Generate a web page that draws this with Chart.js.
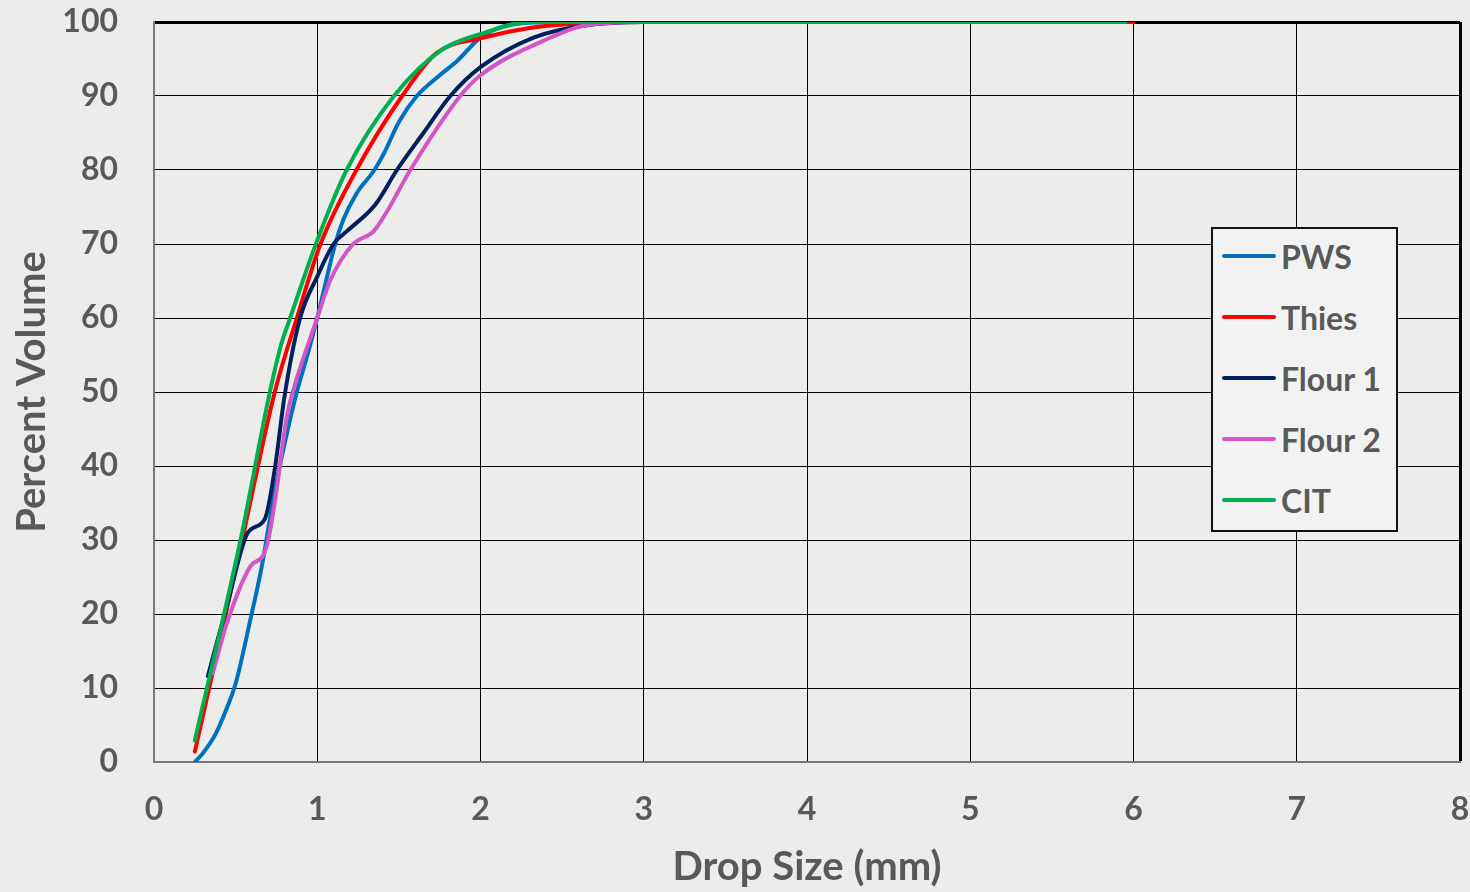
<!DOCTYPE html>
<html>
<head>
<meta charset="utf-8">
<script src="https://cdn.jsdelivr.net/npm/chart.js@4/dist/chart.umd.min.js"></script>
<style>
  html, body { margin: 0; padding: 0; background: #ececeb; }
  #wrap { position: relative; width: 1470px; height: 892px; }
  #legend { position: absolute; left: 1211px; top: 227px; width: 183px; height: 301px;
    background: #f2f2f2; border: 2px solid #111; font-family: Lato, "Open Sans", sans-serif;
    font-weight: 700; font-size: 32px; color: #595959; }
  .item { position: absolute; left: 0; height: 40px; display: flex; align-items: center; }
  .sw { width: 54px; height: 4px; border-radius: 2px; margin-left: 9px; margin-right: 5px; }
</style>
</head>
<body>
<div id="wrap">
  <canvas id="c" width="1470" height="892"></canvas>
  <div id="legend"></div>
</div>
<script>
// ---- data ----
const seriesNames = ["PWS", "Thies", "Flour 1", "Flour 2", "CIT"];
const seriesColors = ["#0070C0", "#FF0000", "#002060", "#D456C6", "#00B050"];

const pwsX = [0.25, 0.30, 0.38, 0.45, 0.50, 0.59, 0.66, 0.73, 0.80, 0.875, 0.94, 1.00, 1.11, 1.16, 1.24, 1.35, 1.41, 1.50, 1.61, 1.75, 1.86, 2.00, 2.20, 2.50, 3.00, 6.00];
const pwsY = [0.0, 1.2, 3.9, 7.5, 10.6, 19.2, 26.4, 35.4, 43.0, 50.0, 55.0, 60.0, 70.0, 73.3, 76.8, 80.0, 82.3, 86.5, 90.0, 92.8, 94.8, 97.9, 99.7, 100, 100, 100];

const thiesX = [0.25, 0.34, 0.54, 0.74, 0.875, 1.02, 1.24, 1.52, 1.73, 2.00, 2.30, 2.60, 3.00, 6.00];
const thiesY = [1.4, 10.2, 30.0, 50.0, 60.0, 70.0, 80.0, 90.0, 95.8, 97.8, 99.2, 99.8, 100, 100];

const flour1X = [0.33, 0.45, 0.578, 0.68, 0.742, 0.80, 0.895, 1.00, 1.10, 1.18, 1.355, 1.488, 1.65, 1.815, 2.00, 2.325, 2.63, 3.00, 5.95];
const flour1Y = [11.6, 21.4, 31.1, 32.9, 39.9, 49.5, 60.0, 65.6, 70.0, 71.7, 75.3, 80.0, 85.0, 90.0, 93.9, 97.9, 99.5, 100, 100];

const flour2X = [0.36, 0.45, 0.589, 0.67, 0.70, 0.742, 0.814, 0.85, 1.00, 1.08, 1.22, 1.345, 1.427, 1.57, 1.876, 2.00, 2.43, 2.63, 3.00, 5.95];
const flour2Y = [12.0, 19.0, 26.4, 28.0, 30.0, 35.4, 46.7, 50.0, 60.0, 65.1, 70.0, 71.7, 74.4, 80.0, 90.0, 92.8, 97.9, 99.5, 100, 100];

const citX = [0.25, 0.53, 0.71, 0.78, 0.834, 1.00, 1.18, 1.47, 1.76, 2.02, 2.30, 5.95];
const citY = [2.9, 30.0, 50.0, 56.5, 60.0, 70.5, 80.0, 90.0, 96.2, 98.5, 100, 100];

const xTicks = [0, 1, 2, 3, 4, 5, 6, 7, 8];
const yTicks = [0, 10, 20, 30, 40, 50, 60, 70, 80, 90, 100];
const xTitle = "Drop Size (mm)";
const yTitle = "Percent Volume";

// ---- build ----
const xs = [pwsX, thiesX, flour1X, flour2X, citX];
const ys = [pwsY, thiesY, flour1Y, flour2Y, citY];
const datasets = seriesNames.map((name, i) => ({
  label: name,
  data: xs[i].map((x, k) => ({ x: x, y: ys[i][k] })),
  borderColor: seriesColors[i],
  backgroundColor: seriesColors[i],
  borderWidth: 4,
  pointRadius: 0,
  fill: false,
  cubicInterpolationMode: 'monotone',
  order: seriesNames.length - i,
  borderCapStyle: 'round'
}));

const FONT = "Lato, 'Open Sans', sans-serif";
const TXT = "#595959";
const zeroPad = (s) => { s.paddingTop = 0; s.paddingBottom = 0; s.paddingLeft = 0; s.paddingRight = 0; };

new Chart(document.getElementById('c'), {
  type: 'line',
  data: { datasets },
  options: {
    responsive: false,
    animation: false,
    layout: { padding: { top: 22, right: 10, left: 0, bottom: 0 } },
    plugins: { legend: { display: false }, tooltip: { enabled: false } },
    scales: {
      x: {
        type: 'linear', min: 0, max: 8,
        afterBuildTicks: (s) => { s.ticks = xTicks.map(v => ({ value: v })); },
        afterFit: (s) => { s.height = 130; zeroPad(s); },
        ticks: { color: TXT, font: { family: FONT, weight: 'bold', size: 32 }, padding: 28 },
        grid: { color: '#000', lineWidth: (ctx) => (ctx.tick && ctx.tick.value === 8 ? 3 : 1), drawTicks: false },
        border: { color: '#7a7a7a', width: 2 },
        title: { display: true, text: xTitle, color: TXT, font: { family: FONT, weight: 'bold', size: 40 }, padding: { top: 0, bottom: 1 } }
      },
      y: {
        type: 'linear', min: 0, max: 100,
        afterBuildTicks: (s) => { s.ticks = yTicks.map(v => ({ value: v })); },
        afterFit: (s) => { s.width = 154; zeroPad(s); },
        ticks: { color: TXT, font: { family: FONT, weight: 'bold', size: 32 }, padding: 36 },
        grid: { color: '#000', lineWidth: (ctx) => (ctx.tick && ctx.tick.value === 100 ? 3 : 1), drawTicks: false },
        border: { color: '#7a7a7a', width: 2 },
        title: { display: true, text: yTitle, color: TXT, font: { family: FONT, weight: 'bold', size: 40 }, padding: { top: 8, bottom: 0 } }
      }
    }
  }
});

// HTML legend built from the series arrays
const lg = document.getElementById('legend');
seriesNames.forEach((name, i) => {
  const it = document.createElement('div');
  it.className = 'item';
  it.style.top = (7 + i * 61) + 'px';
  const sw = document.createElement('span');
  sw.className = 'sw';
  sw.style.background = seriesColors[i];
  const t = document.createElement('span');
  t.textContent = name;
  it.appendChild(sw); it.appendChild(t);
  lg.appendChild(it);
});
</script>
</body>
</html>
